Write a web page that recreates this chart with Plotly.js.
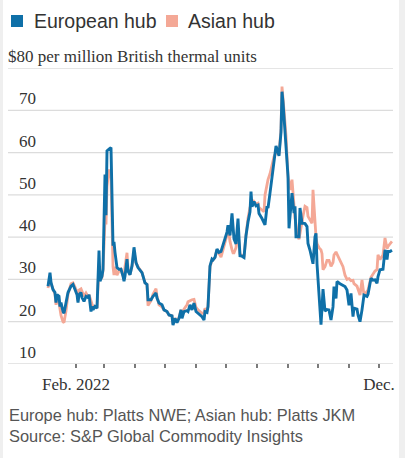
<!DOCTYPE html>
<html>
<head>
<meta charset="utf-8">
<script src="https://cdn.plot.ly/plotly-3.0.1.min.js"></script>
<style>
  html, body { margin: 0; padding: 0; background: #ffffff; }
  #wrap { position: relative; width: 405px; height: 458px; background: #ffffff;
          box-shadow: inset 3px 0 0 #efefef, inset -6px 0 0 #efefef; }
  #chart { position: absolute; left: 0; top: 0; width: 405px; height: 458px; }
</style>
</head>
<body>
<div id="wrap"><div id="chart"></div></div>
<script>
// ---- Data ----
const dates = ["2022-01-04","2022-01-06","2022-01-07","2022-01-09","2022-01-11","2022-01-12","2022-01-13","2022-01-15","2022-01-16","2022-01-17",
"2022-01-19","2022-01-20","2022-01-22","2022-01-24","2022-01-27","2022-01-29","2022-01-31","2022-02-02","2022-02-03","2022-02-04",
"2022-02-06","2022-02-07","2022-02-09","2022-02-11","2022-02-13","2022-02-14","2022-02-16","2022-02-17","2022-02-18","2022-02-20",
"2022-02-22","2022-02-23","2022-02-24","2022-02-25","2022-02-27","2022-02-28","2022-03-01","2022-03-02","2022-03-03","2022-03-04",
"2022-03-06","2022-03-08","2022-03-10","2022-03-11","2022-03-12","2022-03-14","2022-03-16","2022-03-18","2022-03-20","2022-03-21",
"2022-03-22","2022-03-24","2022-03-25","2022-03-27","2022-03-29","2022-03-31","2022-04-02","2022-04-04","2022-04-08","2022-04-11",
"2022-04-13","2022-04-14","2022-04-17","2022-04-19","2022-04-22","2022-04-23","2022-04-25","2022-04-28","2022-04-30","2022-05-03",
"2022-05-05","2022-05-08","2022-05-09","2022-05-11","2022-05-13","2022-05-15","2022-05-17","2022-05-18","2022-05-20","2022-05-23",
"2022-05-24","2022-05-26","2022-05-28","2022-05-30","2022-06-01","2022-06-03","2022-06-07","2022-06-09","2022-06-10","2022-06-12",
"2022-06-13","2022-06-15","2022-06-17","2022-06-18","2022-06-20","2022-06-22","2022-06-24","2022-06-26","2022-06-28","2022-06-30",
"2022-07-02","2022-07-03","2022-07-05","2022-07-07","2022-07-08","2022-07-09","2022-07-11","2022-07-12","2022-07-13","2022-07-15",
"2022-07-17","2022-07-19","2022-07-21","2022-07-23","2022-07-25","2022-07-26","2022-07-27","2022-07-29","2022-07-31","2022-08-02",
"2022-08-03","2022-08-06","2022-08-08","2022-08-09","2022-08-11","2022-08-12","2022-08-14","2022-08-16","2022-08-18","2022-08-20",
"2022-08-21","2022-08-23","2022-08-25","2022-08-26","2022-08-27","2022-08-28","2022-08-30","2022-08-31","2022-09-01","2022-09-02",
"2022-09-04","2022-09-05","2022-09-07","2022-09-08","2022-09-09","2022-09-10","2022-09-12","2022-09-13","2022-09-15","2022-09-16",
"2022-09-18","2022-09-20","2022-09-21","2022-09-23","2022-09-25","2022-09-26","2022-09-28","2022-09-29","2022-09-30","2022-10-02",
"2022-10-04","2022-10-05","2022-10-06","2022-10-08","2022-10-10","2022-10-12","2022-10-14","2022-10-16","2022-10-17","2022-10-19",
"2022-10-20","2022-10-23","2022-10-26","2022-10-28","2022-10-30","2022-11-01","2022-11-03","2022-11-05","2022-11-06","2022-11-09",
"2022-11-10","2022-11-12","2022-11-14","2022-11-16","2022-11-19","2022-11-20","2022-11-23","2022-11-25","2022-11-27","2022-11-29",
"2022-11-30","2022-12-02","2022-12-05","2022-12-07","2022-12-09","2022-12-10","2022-12-12","2022-12-14"];

const europeanHub = [28.4,31.6,29.3,27.6,26.9,24.5,26.4,26,23.6,24.5,
22.4,22,24.5,26.9,28.4,28.8,27.6,26.4,24.5,26.4,
26.9,25.7,24.8,26,25.7,26.4,22.4,23.6,22.8,23.6,
23.2,29.2,36.8,29.6,30.8,32.4,46,54.8,45.2,60.4,
60.8,61.2,38,38.9,36.4,32.8,32.4,32.4,30.8,29.6,
30.8,34.8,32,31.1,33.2,37.6,34,32.8,31.6,29.2,
28.8,25.2,25.2,26,26.8,25.6,24.4,24,22.8,22.4,
21.6,21.4,19.2,20.8,19.8,20.8,22.8,20.8,22.4,22.6,
22.4,24,22.8,24.4,22.4,22,21.2,20.4,22.4,22.2,
23.6,33.2,34.8,34.6,35.2,37.2,36.4,36.6,38,39.6,
41.2,42.8,40.4,45.6,42.4,39.6,38.4,41.2,44.4,35.6,
35.5,35.2,40.4,43.6,46,50.8,47.2,48.4,47.4,47.6,
45.6,44.4,43.6,42.9,47.3,46.9,50.4,54.4,58,61.6,
60.8,59.2,64.8,74.4,72,68.8,63.2,58.4,54.4,42.1,
47.3,50.4,45.7,47.3,40.1,40.1,40.1,46.9,43.3,43.3,
43.2,42.5,38.5,36.9,34.5,33.7,40.1,40.9,33.7,26.6,
19.3,23.3,27.7,22.5,22.9,22.8,20.4,23.5,28.3,25.5,
29.5,29,28.5,28.3,27.5,23.9,26.7,21.2,23.2,23,
21.6,20,22.8,26.3,26,26.5,30.3,29.8,29.9,29.1,
30.7,32.3,32.4,37,34.7,36.6,36.6,36.9];

const asianHub = [28,30.5,29,27.5,26.5,24,25.5,24.5,22.5,21.5,
20,19.8,22.5,26.5,29,29.2,28.2,27,25,27.5,
27.8,27,26,26.8,26,26.4,24.5,24.2,23.6,23.6,
23.2,29,33,30,30.5,32,40,44,43,52,
56,54,33,31,33,31,32,32.4,30.8,30,
33,36.3,32.5,31.1,33.2,36.5,34,33,31.6,29.2,
28.8,23.8,25,26.5,27.8,26,24,23.5,22.8,22.4,
21.6,21.4,19.5,20.8,20,21,22.8,21.5,23,24,
24.7,25,25.2,25.3,23.4,22.8,22,22,23.2,22.5,
23.6,33,34.5,34.6,35.2,37,36,35.3,37,39,
40.5,42.5,39,37,36.3,36.3,37.5,40,41,36,
35.5,35.2,40.4,44.5,47,47.5,47.5,48.4,47.8,48,
47,46.5,46,50,52.8,53.6,55,56.8,59,60,
60.5,59.5,65.6,75.6,72,70,64,58.4,54.4,53,
51.2,53.6,47,44.5,43,41,39.5,41,43.5,45,
47.3,47,44.9,44.1,43.3,51.2,42.5,40,38.5,37.5,
37,36.1,32.3,33,34.5,34.5,33.1,34,35.8,36.5,
36,34.3,33,31,30,30.2,29.7,29.8,29,28.4,
27.5,26.3,29.9,26.3,27.2,27.5,30.5,31.3,32,32.3,
35.8,34.7,35.8,39.8,37.3,37.8,38.3,39];

const seriesNames = ["European hub", "Asian hub"];
const seriesColors = ["#0f70a8", "#f4a896"];

const xTickVals = ["2022-02-01","2022-03-01","2022-04-01","2022-05-01","2022-06-01","2022-07-01",
                   "2022-08-01","2022-09-01","2022-10-01","2022-11-01","2022-12-01"];
const xTickText = ["Feb. 2022","","","","","","","","","","Dec."];
const yTickVals = [10,20,30,40,50,60,70,80];
const yTickText = ["10","20","30","40","50","60","70",""];
const headerText = "$80 per million British thermal units";
const noteText = "Europe hub: Platts NWE; Asian hub: Platts JKM<br>Source: S&P Global Commodity Insights";

// ---- Layout helpers (pixel -> paper) ----
const W = 405, H = 458;
const M = {l: 8, r: 12, t: 68, b: 94};
const PW = W - M.l - M.r, PH = H - M.t - M.b;
const px = v => (v - M.l) / PW;
const py = v => (H - M.b - v) / PH;

const serif = "Liberation Serif, Times New Roman, serif";
const sans = "Liberation Sans, Arial, sans-serif";

const traces = [
  {x: dates, y: asianHub, type: "scatter", mode: "lines", name: seriesNames[1],
   line: {color: seriesColors[1], width: 2.8}, hoverinfo: "skip", showlegend: false},
  {x: dates, y: europeanHub, type: "scatter", mode: "lines", name: seriesNames[0],
   line: {color: seriesColors[0], width: 2.9}, hoverinfo: "skip", showlegend: false}
];

// gridlines and tick marks as shapes positioned through the axes
const gridShapes = yTickVals.map(v => ({
  type: "line", layer: "below", xref: "paper", yref: "y",
  x0: 0, x1: 1, y0: v, y1: v, line: {color: "#dcdcdc", width: 1.3}
}));
const tickShapes = xTickVals.map(d => ({
  type: "line", layer: "above", xref: "x", yref: "paper",
  x0: d, x1: d, y0: 0, y1: -4 / PH, line: {color: "#333", width: 1.3}
}));
const legendShapes = [
  {type: "rect", xref: "paper", yref: "paper", x0: px(11), x1: px(23), y0: py(27), y1: py(15),
   fillcolor: seriesColors[0], line: {width: 0}},
  {type: "rect", xref: "paper", yref: "paper", x0: px(166), x1: px(178), y0: py(27), y1: py(15),
   fillcolor: seriesColors[1], line: {width: 0}}
];

const layout = {
  width: W, height: H,
  margin: M,
  paper_bgcolor: "rgba(0,0,0,0)",
  plot_bgcolor: "rgba(0,0,0,0)",
  showlegend: false,
  xaxis: {
    type: "date",
    range: ["2021-11-25", "2022-12-15"],
    tickmode: "array", tickvals: xTickVals, ticktext: xTickText,
    ticks: "", ticklabelstandoff: 8,
    showgrid: false, zeroline: false, showline: false,
    tickfont: {family: serif, size: 17, color: "#333"},
    automargin: false
  },
  yaxis: {
    range: [10, 80],
    tickmode: "array", tickvals: yTickVals, ticktext: yTickText,
    ticks: "", showgrid: false,
    zeroline: false, showline: false,
    ticklabelposition: "inside top", ticklabelstandoff: 8,
    tickfont: {family: serif, size: 17, color: "#333"},
    automargin: false
  },
  shapes: gridShapes.concat(tickShapes, legendShapes),
  annotations: [
    {xref: "paper", yref: "paper", x: px(32), y: py(21), xanchor: "left", yanchor: "middle",
     text: seriesNames[0], showarrow: false, font: {family: sans, size: 19.5, color: "#333"}},
    {xref: "paper", yref: "paper", x: px(186), y: py(21), xanchor: "left", yanchor: "middle",
     text: seriesNames[1], showarrow: false, font: {family: sans, size: 19.5, color: "#333"}},
    {xref: "paper", yref: "y", x: px(6), y: 80, xanchor: "left", yanchor: "bottom",
     text: headerText, showarrow: false, font: {family: serif, size: 17, color: "#333"}},
    {xref: "paper", yref: "paper", x: px(7), y: py(404), xanchor: "left", yanchor: "top", align: "left",
     text: noteText, showarrow: false, font: {family: sans, size: 16.4, color: "#555"}}
  ]
};

Plotly.newPlot("chart", traces, layout, {displayModeBar: false});
</script>
</body>
</html>
